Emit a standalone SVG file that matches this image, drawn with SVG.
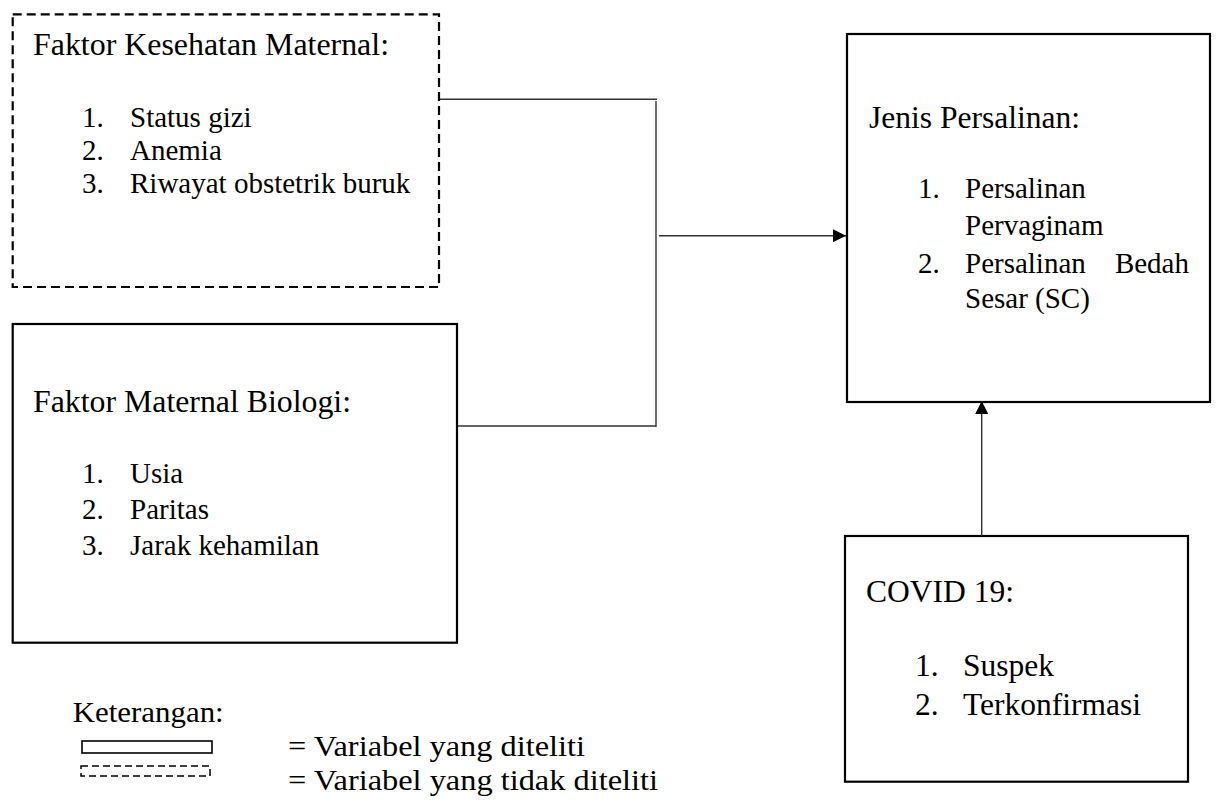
<svg xmlns="http://www.w3.org/2000/svg" width="1218" height="805" viewBox="0 0 1218 805">
<style>
text{font-family:"Liberation Serif","Times New Roman",serif;fill:#000}
.h{font-size:32px}
.i{font-size:29px}
.c{font-size:31.5px}
.l{font-size:30px}
.box{fill:#fff;stroke:#000;stroke-width:2.2}
.dash{fill:#fff;stroke:#000;stroke-width:2.2;stroke-dasharray:9 5}
.con{fill:none;stroke:#333;stroke-width:1.4}
</style>
<defs>
<marker id="ah" viewBox="0 0 10 10" refX="10" refY="5" markerWidth="13" markerHeight="13" markerUnits="userSpaceOnUse" orient="auto">
<path d="M0,0 L10,5 L0,10 z" fill="#000"/>
</marker>
</defs>
<g id="node-kesehatan">
<rect class="dash" x="12.7" y="14.3" width="426.3" height="272.7"/>
<text class="h" x="33" y="55" textLength="356" lengthAdjust="spacingAndGlyphs">Faktor Kesehatan Maternal:</text>
<text class="i" x="82" y="127">1.</text><text class="i" x="130" y="127">Status gizi</text>
<text class="i" x="82" y="160">2.</text><text class="i" x="130" y="160">Anemia</text>
<text class="i" x="82" y="193">3.</text><text class="i" x="130" y="193">Riwayat obstetrik buruk</text>
</g>
<g id="node-biologi">
<rect class="box" x="12.7" y="324" width="444.3" height="318.7"/>
<text class="h" x="33" y="412" textLength="318" lengthAdjust="spacingAndGlyphs">Faktor Maternal Biologi:</text>
<text class="i" x="82" y="483">1.</text><text class="i" x="130" y="483">Usia</text>
<text class="i" x="82" y="519">2.</text><text class="i" x="130" y="519">Paritas</text>
<text class="i" x="82" y="555">3.</text><text class="i" x="130" y="555">Jarak kehamilan</text>
</g>
<g id="node-jenis">
<rect class="box" x="847" y="34" width="363" height="368"/>
<text class="h" x="869" y="128" textLength="211" lengthAdjust="spacingAndGlyphs">Jenis Persalinan:</text>
<text class="i" x="918" y="198">1.</text><text class="i" x="965" y="198">Persalinan</text>
<text class="i" x="965" y="235">Pervaginam</text>
<text class="i" x="918" y="272.7">2.</text><text class="i" x="965" y="272.7">Persalinan</text><text class="i" x="1189" y="272.7" text-anchor="end">Bedah</text>
<text class="i" x="965" y="308">Sesar (SC)</text>
</g>
<g id="node-covid">
<rect class="box" x="845" y="536" width="343" height="245.7"/>
<text class="h" x="866" y="602" textLength="148" lengthAdjust="spacingAndGlyphs">COVID 19:</text>
<text class="c" x="915" y="676">1.</text><text class="c" x="963" y="676">Suspek</text>
<text class="c" x="915" y="715">2.</text><text class="c" x="963" y="715">Terkonfirmasi</text>
</g>
<g id="connectors">
<path class="con" d="M440,99.3 H657"/>
<path class="con" d="M656,101 V427"/>
<path class="con" d="M458,426 H656"/>
<path class="con" d="M659,235.7 H846" marker-end="url(#ah)"/>
<path class="con" d="M981.7,536 V401" marker-end="url(#ah)"/>
</g>
<g id="legend">
<text class="l" x="72.7" y="722" textLength="151" lengthAdjust="spacingAndGlyphs">Keterangan:</text>
<rect x="82" y="741" width="130" height="12" fill="#fff" stroke="#000" stroke-width="1.6"/>
<text class="l" x="288" y="756" textLength="297" lengthAdjust="spacingAndGlyphs">= Variabel yang diteliti</text>
<rect x="81" y="766" width="129" height="10" fill="none" stroke="#000" stroke-width="1.5" stroke-dasharray="7 4"/>
<text class="l" x="288" y="790" textLength="370" lengthAdjust="spacingAndGlyphs">= Variabel yang tidak diteliti</text>
</g>
</svg>
